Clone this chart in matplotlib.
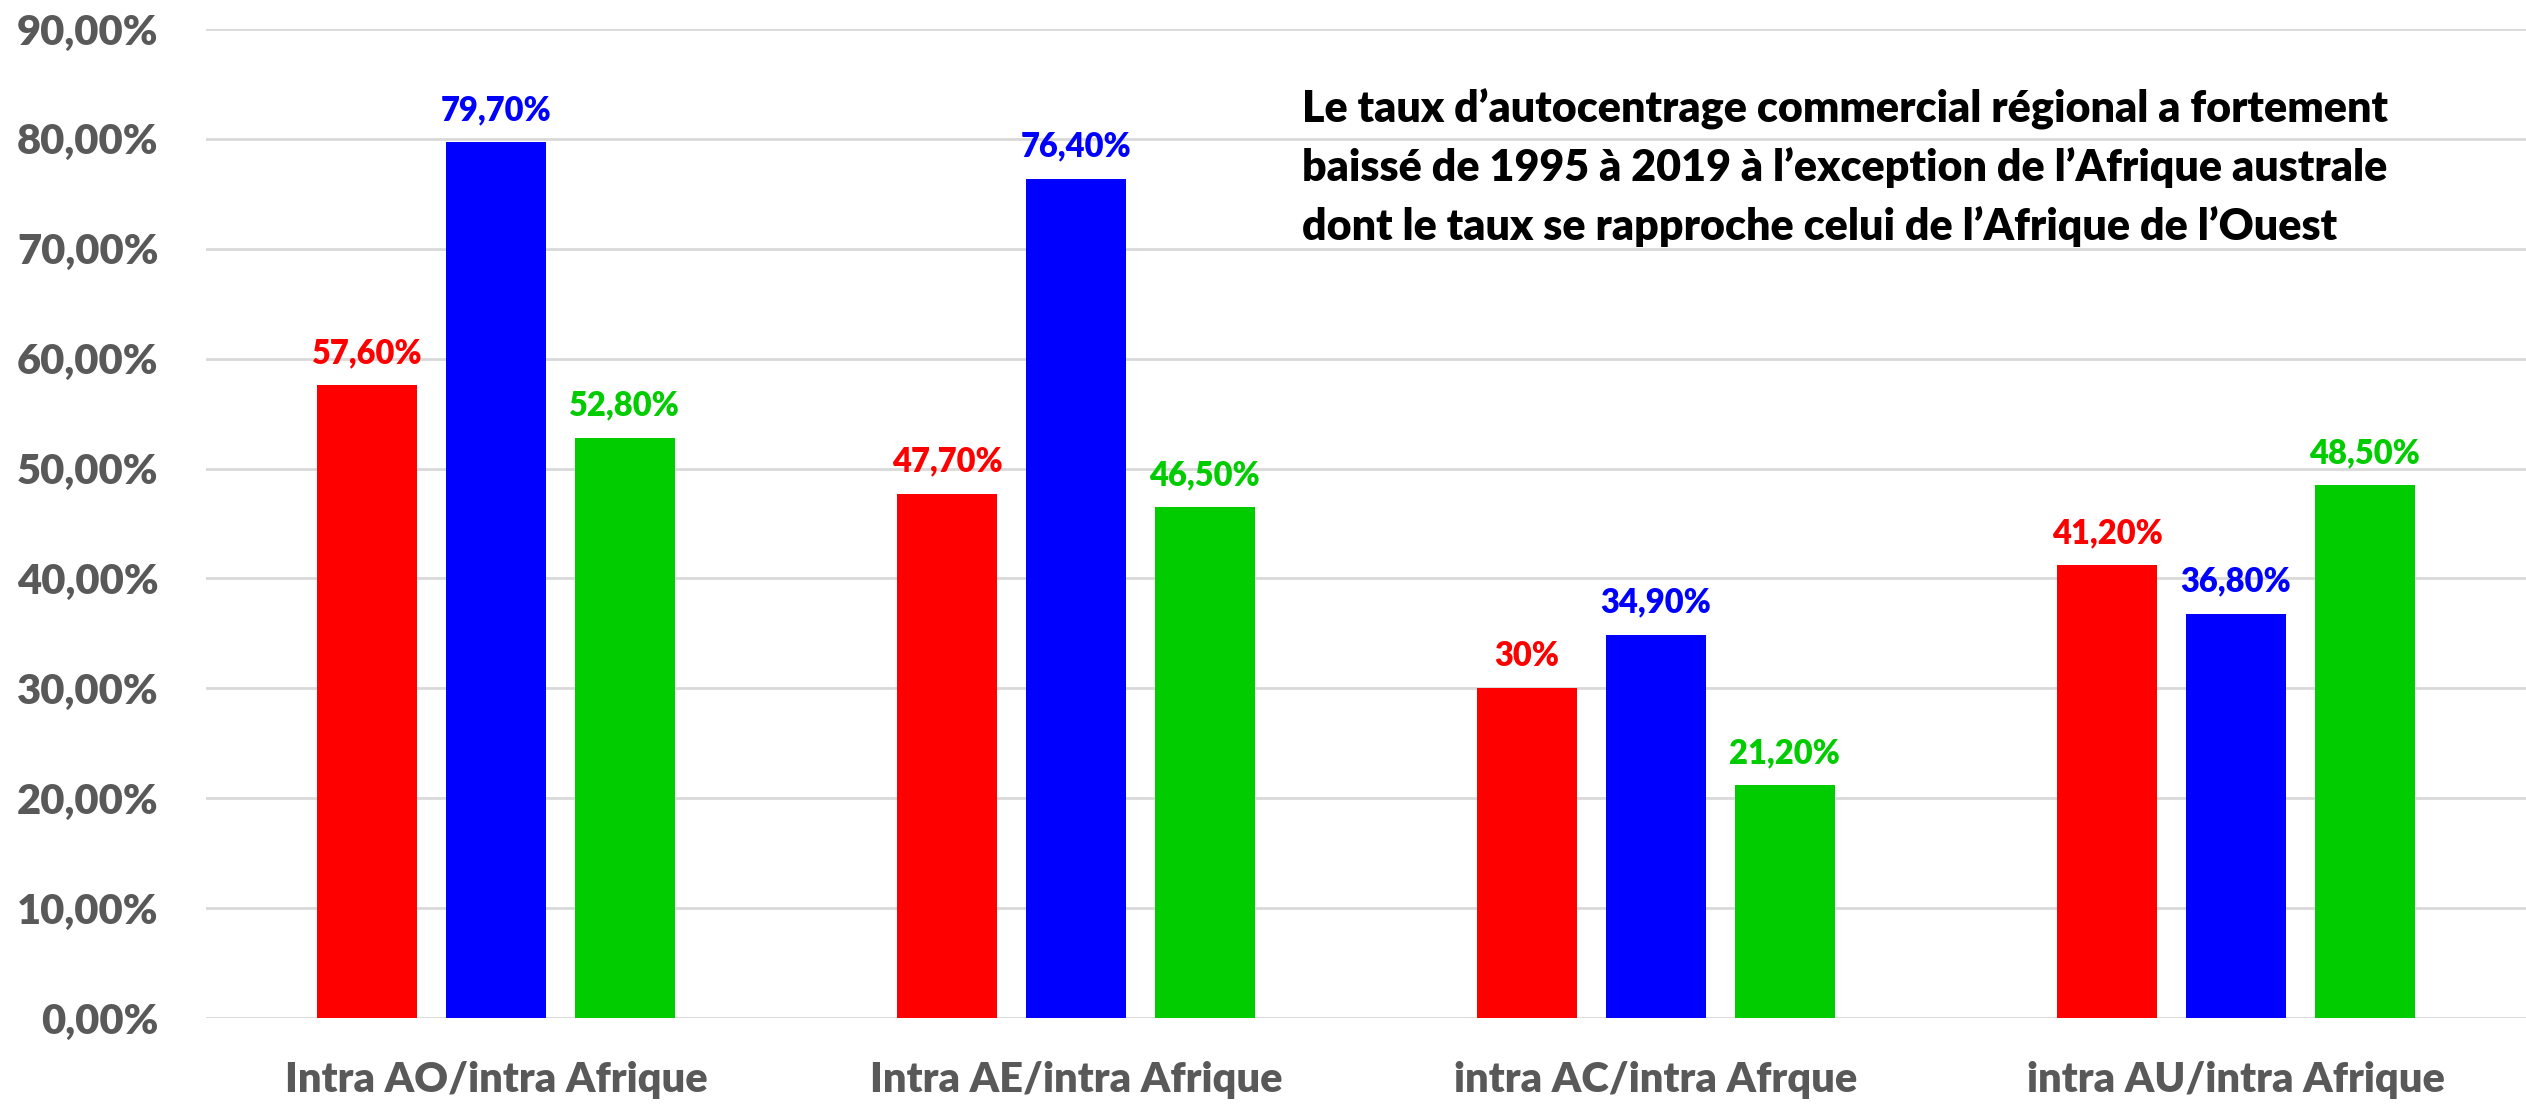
import matplotlib
matplotlib.use("Agg")
import matplotlib.pyplot as plt
import numpy as np

# data
categories = ["Intra AO/intra Afrique", "Intra AE/intra Afrique",
              "intra AC/intra Afrque", "intra AU/intra Afrique"]
red_vals = [57.6, 47.7, 30.0, 41.2]
blue_vals = [79.7, 76.4, 34.9, 36.8]
green_vals = [52.8, 46.5, 21.2, 48.5]
red_labels = ["57,60%", "47,70%", "30%", "41,20%"]
blue_labels = ["79,70%", "76,40%", "34,90%", "36,80%"]
green_labels = ["52,80%", "46,50%", "21,20%", "48,50%"]
yticks = [0, 10, 20, 30, 40, 50, 60, 70, 80, 90]
note_lines = [
    "Le taux d\u2019autocentrage commercial r\u00e9gional a fortement",
    "baiss\u00e9 de 1995 \u00e0 2019 \u00e0 l\u2019exception de l\u2019Afrique australe",
    "dont le taux se rapproche celui de l\u2019Afrique de l\u2019Ouest",
]

plt.rcParams['font.family'] = ['Lato', 'DejaVu Sans']
plt.rcParams['font.weight'] = 'bold'

fig = plt.figure(figsize=(25.26, 11.05), dpi=100)
ax = fig.add_axes([0.0815, 0.0787, 0.9185, 0.895])

x = np.arange(len(categories))
w = 0.172
step = 0.222
series = [(red_vals, red_labels, "#ff0000"),
          (blue_vals, blue_labels, "#0000ff"),
          (green_vals, green_labels, "#00cc00")]

for i, (vals, labs, col) in enumerate(series):
    pos = x + (i - 1) * step
    ax.bar(pos, vals, width=w, color=col, zorder=3)
    for px, v, lab in zip(pos, vals, labs):
        ax.annotate(lab, (px, v), xytext=(0, 16), textcoords="offset points",
                    ha="center", va="baseline", color=col, fontsize=23.5,
                    fontweight="heavy")

ax.set_xlim(-0.5, len(categories) - 0.5)
ax.set_ylim(0, 90)
ax.set_yticks(yticks)
ax.set_yticklabels([f"{t},00%" for t in yticks])
ax.set_xticks(x)
ax.set_xticklabels(categories)
ax.tick_params(axis="y", length=0, pad=34, labelsize=30, labelcolor="#595959")
ax.tick_params(axis="x", length=0, pad=31, labelsize=30, labelcolor="#595959")
for lab in ax.get_xticklabels() + ax.get_yticklabels():
    lab.set_fontweight("heavy")

ax.grid(axis="y", color="#d9d9d9", linewidth=2, zorder=0)
for s in ax.spines.values():
    s.set_visible(False)

# the note, one baseline per line
for k, line in enumerate(note_lines):
    ax.text(0.4724, 0.906 - 0.0597 * k, line, transform=ax.transAxes,
            ha="left", va="baseline", fontsize=31, fontweight="heavy",
            color="black")

fig.savefig("out.png", dpi=100, facecolor="white")
